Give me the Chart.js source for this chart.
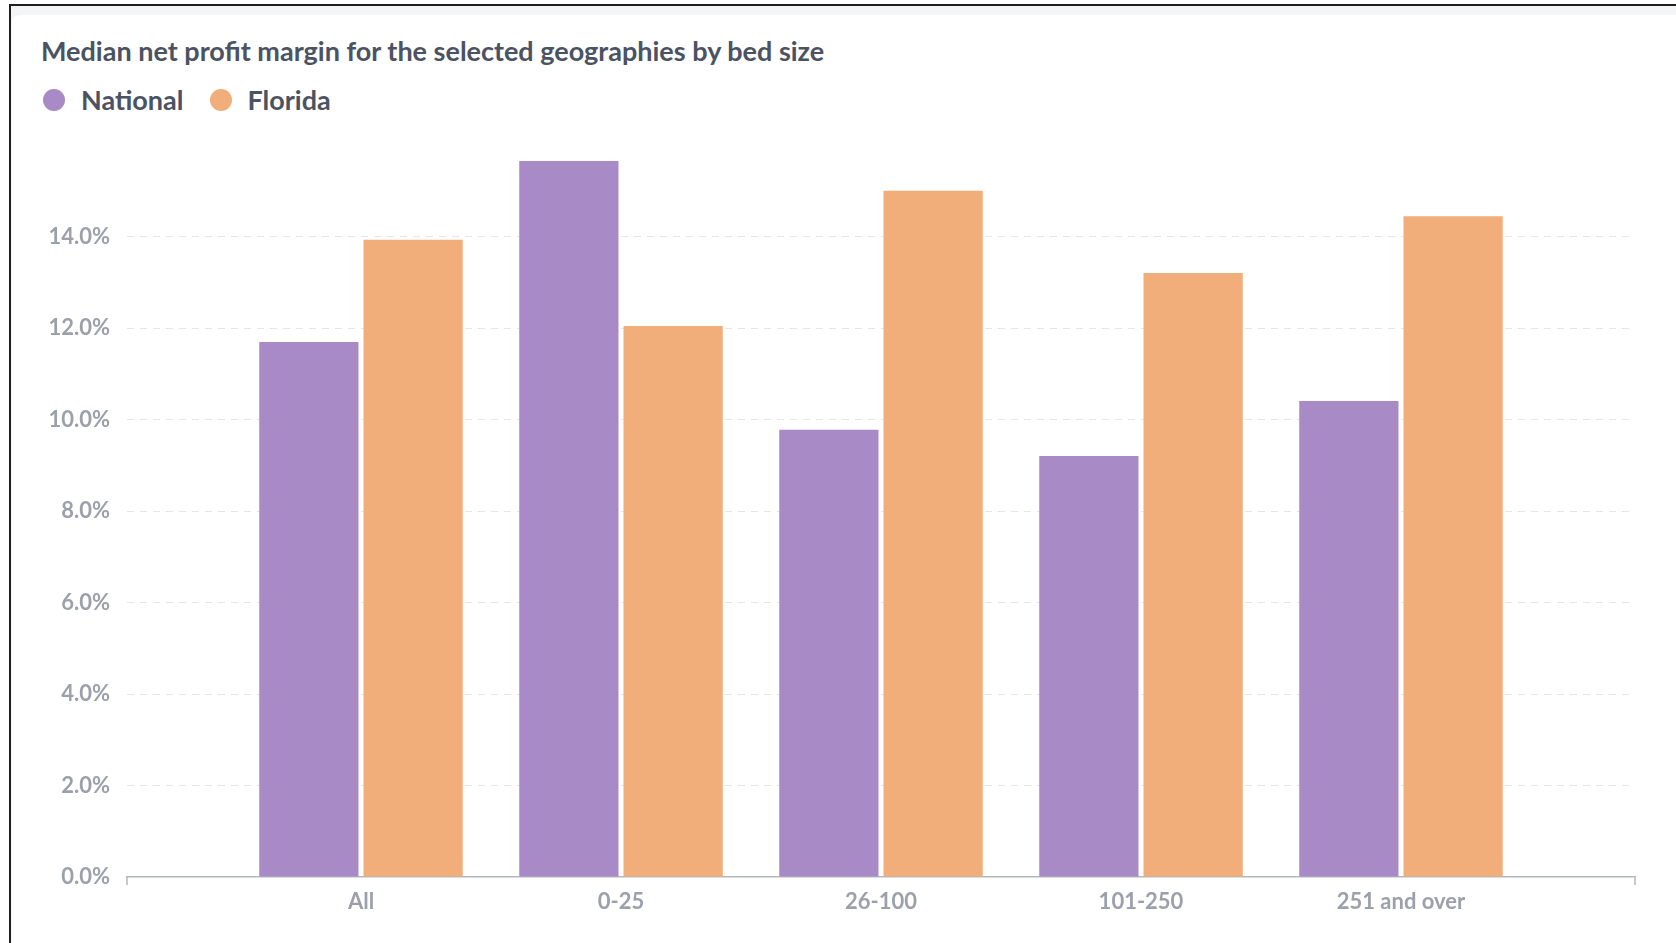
<!DOCTYPE html>
<html>
<head>
<meta charset="utf-8">
<title>Median net profit margin by bed size</title>
<script src="https://cdn.jsdelivr.net/npm/chart.js@4.4.1/dist/chart.umd.min.js"></script>
<style>
  html, body { margin: 0; padding: 0; width: 1676px; height: 943px; overflow: hidden; background: #ffffff; }
  #frame {
    position: absolute; left: 9px; top: 4px; width: 1700px; height: 960px;
    border-top: 2px solid #1f1f1f; border-left: 2px solid #1f1f1f;
    background: #f4f5f6;
  }
  #card {
    position: absolute; left: 12px; top: 15px; width: 1690px; height: 940px;
    background: #ffffff; border-radius: 8px;
  }
  #title {
    position: absolute; left: 41px; top: 36px;
    font-family: Lato, "Open Sans", sans-serif; font-weight: 700; font-size: 27px;
    color: #4b5363; white-space: nowrap; line-height: 30px;
  }
  #legend {
    position: absolute; left: 43px; top: 85px; display: flex; align-items: center;
    font-family: Lato, "Open Sans", sans-serif; font-weight: 700; font-size: 27px;
    color: #4b5363; line-height: 30px;
  }
  .item { display: flex; align-items: center; margin-right: 26px; }
  .dot { width: 22px; height: 22px; border-radius: 50%; margin-right: 16px; }
  #chart { position: absolute; left: 0; top: 0; }
</style>
</head>
<body>
<div id="frame"></div>
<div id="card"></div>
<div id="title">Median net profit margin for the selected geographies by bed size</div>
<div id="legend"></div>
<canvas id="chart" width="1676" height="943" style="width:1676px;height:943px"></canvas>
<script>
// Bed-size groups and median net profit margin (%) per geography
const categories = ['All', '0-25', '26-100', '101-250', '251 and over'];
const national = [11.70, 15.66, 9.78, 9.21, 10.41];
const florida = [13.94, 12.05, 15.01, 13.21, 14.45];
const yTicks = [0, 2, 4, 6, 8, 10, 12, 14];

const seriesNames = ['National', 'Florida'];
const seriesColors = ['#a88ac6', '#f2ae7a'];

// Legend row
const legendEl = document.getElementById('legend');
seriesNames.forEach((name, i) => {
  const item = document.createElement('div');
  item.className = 'item';
  const dot = document.createElement('span');
  dot.className = 'dot';
  dot.style.background = seriesColors[i];
  const txt = document.createElement('span');
  txt.textContent = name;
  item.appendChild(dot);
  item.appendChild(txt);
  legendEl.appendChild(item);
});

const tickFont = { family: 'Lato', size: 22, weight: 'bold' };
const tickColor = '#9ba0ab';
const yMax = Math.max(...national, ...florida);

// Small end ticks at both ends of the category axis
const axisEnds = {
  id: 'axisEnds',
  afterDraw(chart) {
    const x = chart.scales.x, y = chart.scales.y;
    const ctx = chart.ctx;
    const base = y.getPixelForValue(0);
    ctx.save();
    ctx.strokeStyle = '#b4b7bc';
    ctx.lineWidth = 1.5;
    [x.getPixelForValue(x.min), x.getPixelForValue(x.max)].forEach(px => {
      ctx.beginPath();
      ctx.moveTo(px, base);
      ctx.lineTo(px, base + 8);
      ctx.stroke();
    });
    ctx.restore();
  }
};

new Chart(document.getElementById('chart'), {
  type: 'bar',
  data: {
    datasets: [
      {
        label: seriesNames[0],
        data: national.map((v, i) => ({ x: i, y: v })),
        backgroundColor: seriesColors[0],
        borderWidth: 0
      },
      {
        label: seriesNames[1],
        data: florida.map((v, i) => ({ x: i, y: v })),
        backgroundColor: seriesColors[1],
        borderWidth: 0
      }
    ]
  },
  options: {
    responsive: false,
    animation: false,
    devicePixelRatio: 1,
    categoryPercentage: 0.802,
    barPercentage: 0.952,
    layout: { padding: { top: 161, right: 41, left: 0, bottom: 0 } },
    plugins: {
      legend: { display: false },
      title: { display: false },
      tooltip: { enabled: false }
    },
    scales: {
      x: {
        type: 'linear',
        offset: false,
        min: -0.9,
        max: 4.9,
        afterBuildTicks: s => { s.ticks = categories.map((_, i) => ({ value: i })); },
        afterFit: s => { s.height = 66; },
        grid: { display: false, drawTicks: false, offset: false },
        border: { display: true, color: '#b4b7bc', width: 1.5 },
        ticks: {
          autoSkip: false,
          maxRotation: 0,
          padding: 12,
          font: tickFont,
          color: tickColor,
          callback: v => categories[Math.round(v)]
        }
      },
      y: {
        min: 0,
        max: yMax,
        afterBuildTicks: s => { s.ticks = yTicks.map(v => ({ value: v })); },
        afterFit: s => { s.width = 127; },
        grid: {
          drawTicks: false,
          lineWidth: 1,
          color: c => (c.tick && c.tick.value === 0) ? 'rgba(0,0,0,0)' : '#e3e5e8'
        },
        border: { display: false, dash: [7, 6] },
        ticks: {
          padding: 17,
          font: tickFont,
          color: tickColor,
          callback: v => Number(v).toFixed(1) + '%'
        }
      }
    }
  },
  plugins: [axisEnds]
});
</script>
</body>
</html>
